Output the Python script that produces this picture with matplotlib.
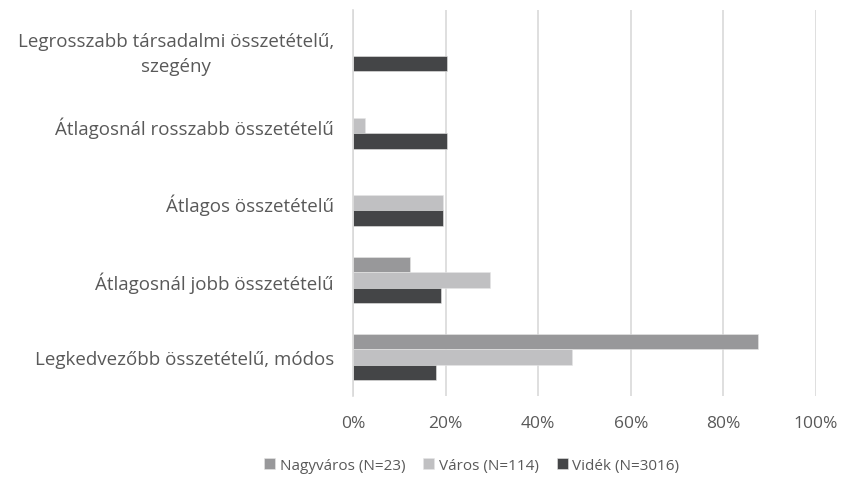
import numpy as np
import matplotlib
matplotlib.use("Agg")
import matplotlib.pyplot as plt
from matplotlib.ticker import PercentFormatter

categories = [
    "Legrosszabb társadalmi összetételű,\nszegény",
    "Átlagosnál rosszabb összetételű",
    "Átlagos összetételű",
    "Átlagosnál jobb összetételű",
    "Legkedvezőbb összetételű, módos",
]
series = ["Nagyváros (N=23)", "Város (N=114)", "Vidék (N=3016)"]
nagyvaros = [0.0, 0.0, 0.0, 12.3, 87.6]
varos = [0.0, 2.5, 19.3, 29.6, 47.2]
videk = [20.2, 20.2, 19.5, 19.0, 17.9]
x_ticks = [0, 20, 40, 60, 80, 100]

colors = ["#98989a", "#c0c0c2", "#444547"]
text_color = "#595959"

plt.rcParams["font.family"] = ["Open Sans", "DejaVu Sans"]

fig = plt.figure(figsize=(8.44, 4.81), dpi=100)
ax = fig.add_axes([0.4186, 0.175, 0.548, 0.803])

y = np.arange(len(categories))
h = 0.2
for i, (vals, name, c) in enumerate(zip([nagyvaros, varos, videk], series, colors)):
    ax.barh(y + (i - 1) * h, vals, height=h, color=c, label=name,
            edgecolor="#e6e6e6", linewidth=0.4)

ax.set_ylim(len(categories) - 0.5, -0.5)
ax.set_xlim(0, 100)
ax.set_xticks(x_ticks)
ax.xaxis.set_major_formatter(PercentFormatter(decimals=0))
ax.set_yticks(y)
ax.set_yticklabels(categories, multialignment="center", linespacing=1.5,
                   fontsize=13.5)
ax.tick_params(axis="x", labelsize=12.5, pad=14)
ax.tick_params(axis="both", length=0, colors=text_color)
ax.tick_params(axis="y", pad=14)
ax.grid(axis="x", color="#d9d9d9", linewidth=1.2)
ax.set_axisbelow(True)
for s in ["top", "right", "bottom"]:
    ax.spines[s].set_visible(False)
ax.spines["left"].set_color("#d9d9d9")
ax.spines["left"].set_linewidth(1.2)

fig.legend(loc="center", bbox_to_anchor=(0.559, 0.03), ncol=3, frameon=False,
           fontsize=11, labelcolor=text_color, handlelength=0.7, handleheight=0.7,
           handletextpad=0.3, columnspacing=1.2)

fig.savefig("out.png", dpi=100, facecolor="white")
